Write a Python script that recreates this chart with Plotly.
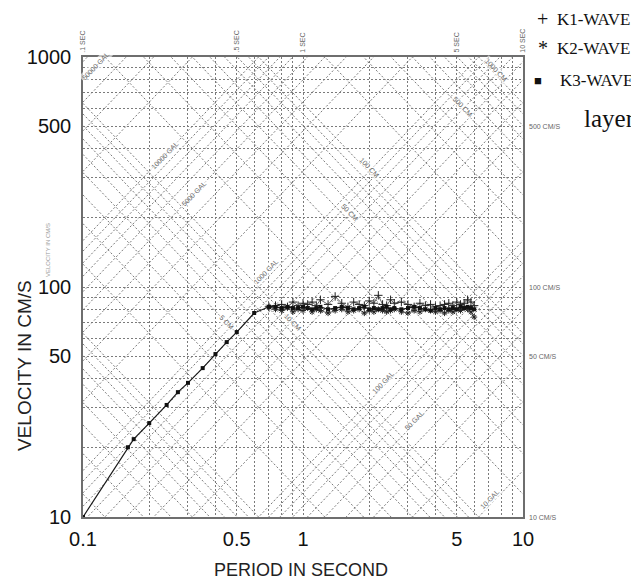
import math
import plotly.graph_objects as go

# ---------------- data ----------------
periods = [0.10, 0.16, 0.17, 0.20, 0.24, 0.27, 0.30, 0.35, 0.40, 0.45, 0.50, 0.60, 0.70,
           0.75, 0.80, 0.85, 0.90, 0.95, 1.00, 1.05, 1.10, 1.15, 1.20, 1.30, 1.40, 1.50,
           1.60, 1.70, 1.80, 1.90, 2.00, 2.10, 2.20, 2.30, 2.40, 2.50, 2.60, 2.80, 3.00,
           3.20, 3.40, 3.60, 3.80, 4.00, 4.20, 4.40, 4.60, 4.80, 5.00, 5.20, 5.40, 5.60,
           5.80, 6.00]
rise = [10.0, 20.1, 21.8, 25.6, 30.7, 34.9, 38.3, 44.4, 51.1, 57.6, 63.7, 77.1, 82.0]
k1_flat = [83, 84, 82, 86, 83, 85, 84, 86, 83, 88, 84, 91, 85, 82, 86, 84, 83, 87, 85, 92,
           84, 83, 88, 85, 86, 84, 82, 85, 83, 84, 82, 83, 84, 85, 83, 86, 84, 85, 88, 86, 83]
k2_flat = [80, 79, 81, 78, 80, 79, 81, 78, 80, 79, 77, 79, 80, 78, 79, 80, 77, 79, 78, 80,
           79, 78, 79, 80, 78, 77, 79, 78, 80, 79, 78, 79, 77, 79, 78, 80, 79, 81, 80, 78, 74]
k3_flat = [82, 81, 82, 81, 81, 82, 81, 80, 81, 82, 80, 81, 82, 81, 80, 81, 82, 80, 81, 80,
           81, 82, 80, 81, 80, 81, 82, 81, 80, 79, 81, 80, 81, 80, 81, 80, 82, 81, 82, 81, 80]
N_RISE = len(rise)
k1_wave = [None] * (N_RISE - 1) + [rise[-1]] + k1_flat
k2_wave = [None] * (N_RISE - 1) + [rise[-1]] + k2_flat
k3_wave = rise + k3_flat

# tripartite grid values
period_grid = [0.1, 0.2, 0.3, 0.4, 0.5, 0.6, 0.7, 0.8, 0.9, 1, 2, 3, 4, 5, 6, 7, 8, 9, 10]
period_labels = ["0.1", "", "", "", "0.5", "", "", "", "", "1", "", "", "", "5", "", "", "", "", "10"]
vel_grid = [10, 20, 30, 40, 50, 60, 70, 80, 90, 100, 200, 300, 400, 500, 600, 700, 800, 900, 1000]
vel_labels = ["10", "", "", "", "50", "", "", "", "", "100", "", "", "", "500", "", "", "", "", "1000"]
accel_lines = [m * d for d in [10, 100, 1000, 10000] for m in range(1, 10) if m * d <= 70000]
disp_lines = [m * d for d in [0.1, 1, 10, 100, 1000] for m in range(1, 10) if 0.15 <= m * d <= 2000]

accel_label_text = ["50000 GAL", "10000 GAL", "5000 GAL", "1000 GAL", "100 GAL", "50 GAL", "10 GAL"]
accel_label_T = [0.115, 0.235, 0.32, 0.68, 2.31, 3.2, 7.05]
accel_label_V = [915, 374, 255, 117, 38.6, 26.4, 11.9]
disp_label_text = ["1000 CM", "500 CM", "100 CM", "50 CM", "10 CM", "5 CM"]
disp_label_T = [7.6, 5.3, 2.0, 1.63, 0.9, 0.45]
disp_label_V = [877, 607, 330, 210, 70, 70]

right_labels = ["500 CM/S", "100 CM/S", "50 CM/S", "10 CM/S"]
right_vals = [500, 100, 50, 10]
top_labels = [".1 SEC", ".5 SEC", "1 SEC", "5 SEC", "10 SEC"]
top_vals = [0.1, 0.5, 1, 5, 10]

TWO_PI = 2 * math.pi
T_MIN, T_MAX = 0.1, 10.0
GRID = "#7a7a7a"

# screen geometry (page has an 8px body margin)
PL, PR, PT, PB = 83, 523, 57, 517


def px(x):
    return (x - PL) / (PR - PL)


def py(y):
    return (PB - y) / (PB - PT)


fig = go.Figure()

ax_x, ax_y = [], []
for sa in accel_lines:
    ax_x += [T_MIN, T_MAX, None]
    ax_y += [sa * T_MIN / TWO_PI, sa * T_MAX / TWO_PI, None]
fig.add_trace(go.Scatter(x=ax_x, y=ax_y, mode="lines", hoverinfo="skip", showlegend=False,
                         line=dict(color=GRID, width=1, dash="2px,2px")))
dx_x, dx_y = [], []
for sd in disp_lines:
    dx_x += [T_MIN, T_MAX, None]
    dx_y += [TWO_PI * sd / T_MIN, TWO_PI * sd / T_MAX, None]
fig.add_trace(go.Scatter(x=dx_x, y=dx_y, mode="lines", hoverinfo="skip", showlegend=False,
                         line=dict(color=GRID, width=1, dash="2px,2px")))

fig.add_trace(go.Scatter(x=periods, y=k1_wave, mode="lines+markers", name="K1-WAVE", showlegend=False,
                         line=dict(color="#3a3a3a", width=0.8),
                         marker=dict(symbol="cross-thin-open", size=6, color="#222",
                                     line=dict(width=1, color="#222"))))
fig.add_trace(go.Scatter(x=periods, y=k2_wave, mode="lines+markers", name="K2-WAVE", showlegend=False,
                         line=dict(color="#3a3a3a", width=0.8),
                         marker=dict(symbol="asterisk-open", size=5, color="#222",
                                     line=dict(width=1, color="#222"))))
fig.add_trace(go.Scatter(x=periods, y=k3_wave, mode="lines+markers", name="K3-WAVE", showlegend=False,
                         line=dict(color="#1a1a1a", width=1.2),
                         marker=dict(symbol="square", size=4, color="#111")))

ann = []
for t, T, V in zip(accel_label_text, accel_label_T, accel_label_V):
    ann.append(dict(x=math.log10(T), y=math.log10(V), xref="x", yref="y", text=t, showarrow=False,
                    xanchor="center", yanchor="middle",
                    textangle=-46, font=dict(family="Arial", size=7, color="#666"),
                    bgcolor="rgba(255,255,255,0.6)"))
for t, T, V in zip(disp_label_text, disp_label_T, disp_label_V):
    ann.append(dict(x=math.log10(T), y=math.log10(V), xref="x", yref="y", text=t, showarrow=False,
                    xanchor="center", yanchor="middle",
                    textangle=46, font=dict(family="Arial", size=7, color="#666"),
                    bgcolor="rgba(255,255,255,0.6)"))
for t, v in zip(right_labels, right_vals):
    ann.append(dict(x=1.01, y=math.log10(v), xref="paper", yref="y", text=t, showarrow=False,
                    xanchor="left", yanchor="middle", font=dict(family="Arial", size=7, color="#666")))
for t, v in zip(top_labels, top_vals):
    ann.append(dict(x=math.log10(v), y=1.005, xref="x", yref="paper", text=t, showarrow=False,
                    xanchor="center", yanchor="bottom", textangle=-90,
                    font=dict(family="Arial", size=7, color="#666")))

legend_syms = ["+", "*", "\u25a0"]
legend_names = ["K1-WAVE", "K2-WAVE", "K3-WAVE"]
legend_y = [19, 48, 80]
legend_sym_x = [535, 536, 532]
legend_txt_x = [555, 555, 558]
legend_sym_size = [20, 20, 13]
for s, n, yy, sx, tx, ss in zip(legend_syms, legend_names, legend_y, legend_sym_x, legend_txt_x, legend_sym_size):
    ann.append(dict(x=px(sx), y=py(yy), xref="paper", yref="paper", text=s, showarrow=False,
                    xanchor="left", yanchor="middle",
                    font=dict(family="Liberation Serif", size=ss, color="#111")))
    ann.append(dict(x=px(tx), y=py(yy), xref="paper", yref="paper", text=n, showarrow=False,
                    xanchor="left", yanchor="middle",
                    font=dict(family="Liberation Serif", size=17, color="#111")))
ann.append(dict(x=px(582), y=py(118), xref="paper", yref="paper", text="layer", showarrow=False,
                xanchor="left", yanchor="middle", font=dict(family="Liberation Serif", size=25, color="#111")))

ann.append(dict(x=px(301), y=py(570), xref="paper", yref="paper", text="PERIOD IN SECOND",
                xanchor="center", yanchor="middle",
                showarrow=False, font=dict(family="Arial", size=18, color="#222")))
ann.append(dict(x=px(24), y=py(366), xref="paper", yref="paper", text="VELOCITY IN CM/S",
                xanchor="center", yanchor="middle",
                showarrow=False, textangle=-90, font=dict(family="Arial", size=19, color="#222")))
ann.append(dict(x=px(48), y=py(250), xref="paper", yref="paper", text="VELOCITY IN CM/S",
                xanchor="center", yanchor="middle",
                showarrow=False, textangle=-90, font=dict(family="Arial", size=6, color="#999")))

fig.update_layout(
    width=631, height=574,
    margin=dict(l=75, r=116, t=49, b=65),
    paper_bgcolor="white", plot_bgcolor="white",
    showlegend=False,
    annotations=ann,
    xaxis=dict(type="log", range=[-1, 1], tickmode="array", tickvals=period_grid, ticktext=period_labels,
               showgrid=True, gridcolor=GRID, griddash="2px,2px", gridwidth=1,
               showline=True, linecolor="#6e6e6e", linewidth=1.5, mirror=True, ticks="",
               zeroline=False, ticklabelstandoff=3,
               tickfont=dict(family="Arial", size=20, color="#111")),
    yaxis=dict(type="log", range=[1, 3], tickmode="array", tickvals=vel_grid, ticktext=vel_labels,
               showgrid=True, gridcolor=GRID, griddash="2px,2px", gridwidth=1,
               showline=True, linecolor="#6e6e6e", linewidth=1.5, mirror=True, ticks="",
               zeroline=False, ticklabelstandoff=6,
               tickfont=dict(family="Arial", size=20, color="#111")),
)

fig.write_html("out.html")
